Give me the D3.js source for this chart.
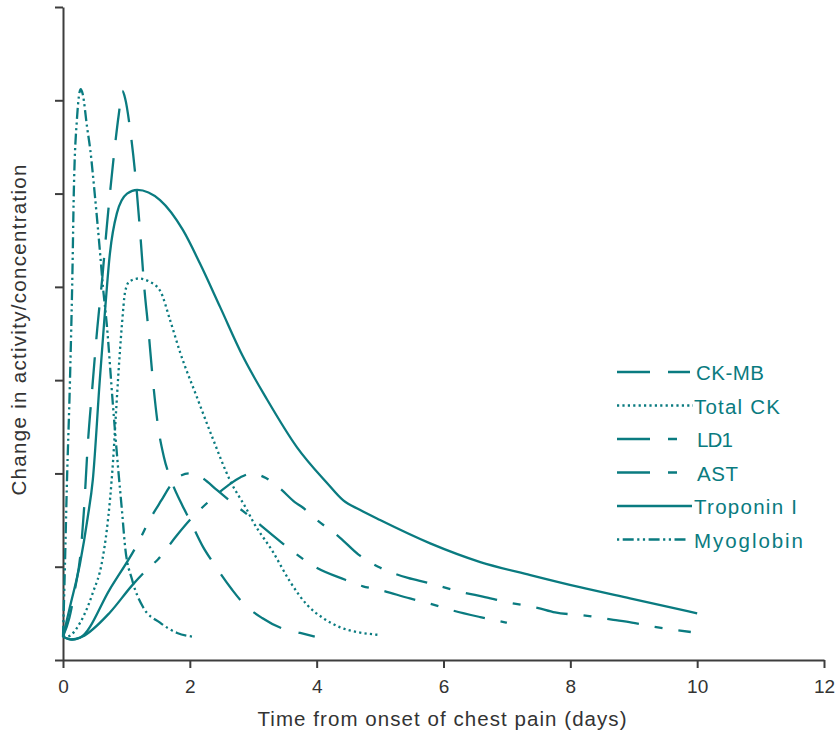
<!DOCTYPE html>
<html><head><meta charset="utf-8">
<script src="https://cdn.jsdelivr.net/npm/d3@7/dist/d3.min.js"></script>
<style>body{margin:0;background:#fff}</style>
</head><body>
<svg id="chart" width="837" height="732"></svg>
<script>
// ---------- data (days, relative change) ----------
const xTicks = [0, 2, 4, 6, 8, 10, 12];
const yTicks = [0, 1, 2, 3, 4, 5, 6, 7];
const seriesNames = ["CK-MB", "Total CK", "LD1", "AST", "Troponin I", "Myoglobin"];

const ckmb = [[0,0.25],[0.1,0.45],[0.2,0.8],[0.27,1.1],[0.33,1.6],[0.39,2.3],[0.46,2.9],[0.54,3.55],[0.62,4.1],[0.69,4.64],[0.79,5.33],[0.88,5.85],[0.935,6.1],[0.98,6.02],[1.06,5.68],[1.14,5.2],[1.21,4.64],[1.29,3.93],[1.34,3.59],[1.42,2.98],[1.5,2.5],[1.59,2.18],[1.72,1.9],[1.88,1.66],[2.0,1.5],[2.21,1.21],[2.37,1.04],[2.67,0.75],[2.84,0.61],[3.14,0.45],[3.45,0.34],[3.74,0.29],[3.97,0.25]];
const totalCK = [[0,0.25],[0.06,0.25],[0.27,0.4],[0.47,0.72],[0.62,1.07],[0.69,1.39],[0.74,1.71],[0.79,2.14],[0.84,2.7],[0.87,3.03],[0.93,3.6],[0.98,3.95],[1.05,4.06],[1.2,4.09],[1.35,4.06],[1.53,3.96],[1.69,3.64],[1.85,3.29],[2.11,2.82],[2.37,2.36],[2.63,1.93],[2.9,1.61],[3.0,1.48],[3.31,1.16],[3.58,0.84],[3.85,0.59],[4.1,0.45],[4.37,0.35],[4.64,0.3],[4.97,0.27]];
const ld1 = [[0,0.25],[0.15,0.22],[0.3,0.25],[0.74,0.51],[1.09,0.8],[1.34,0.98],[1.5,1.08],[1.8,1.34],[2.0,1.5],[2.35,1.73],[2.6,1.87],[2.8,1.96],[2.98,2.0],[3.2,1.95],[3.42,1.84],[3.66,1.69],[3.77,1.64],[3.97,1.52],[4.37,1.31],[4.66,1.13],[4.97,1.0],[5.44,0.88],[5.74,0.83],[6.34,0.72],[6.62,0.68],[7.0,0.62],[7.48,0.56],[7.76,0.51],[8.19,0.48],[8.68,0.43],[8.97,0.4],[9.38,0.35],[9.9,0.3]];
const ast = [[0,0.25],[0.13,0.22],[0.27,0.24],[0.74,0.76],[1.21,1.29],[1.34,1.47],[1.55,1.71],[1.74,1.91],[1.87,1.98],[2.0,2.0],[2.2,1.95],[2.43,1.82],[2.7,1.67],[2.98,1.52],[3.39,1.29],[3.67,1.14],[3.97,1.0],[4.45,0.86],[4.73,0.79],[5.0,0.75],[5.47,0.66],[5.76,0.61],[6.15,0.53],[6.58,0.46],[7.0,0.4]];
const troponinI = [[0,0.25],[0.11,0.57],[0.27,1.04],[0.39,1.53],[0.47,1.93],[0.58,3.0],[0.66,3.72],[0.74,4.36],[0.85,4.79],[1.01,5.0],[1.17,5.04],[1.53,4.93],[1.89,4.61],[2.16,4.25],[2.48,3.78],[2.84,3.25],[3.22,2.79],[3.69,2.28],[4.16,1.9],[4.42,1.71],[4.68,1.61],[5.0,1.5],[5.79,1.25],[6.58,1.05],[7.37,0.91],[8.15,0.78],[8.94,0.66],[10.0,0.5]];
const myoglobin = [[0,0.25],[0.03,1.0],[0.06,1.85],[0.11,3.0],[0.15,4.2],[0.17,5.0],[0.22,5.8],[0.28,6.12],[0.31,6.07],[0.38,5.71],[0.43,5.47],[0.5,5.0],[0.58,4.4],[0.63,4.0],[0.69,3.6],[0.79,2.71],[0.87,2.05],[0.93,1.6],[0.98,1.21],[1.09,0.86],[1.26,0.57],[1.53,0.4],[1.8,0.29],[2.05,0.25]];

const xLabel = "Time from onset of chest pain (days)";
const yLabel = "Change in activity/concentration";

// ---------- styles ----------
const teal = "#0a7b80";
const axisColor = "#3d3d3d";
const textColor = "#333333";
const font = "'Liberation Sans', Arial, Helvetica, sans-serif";

const series = [
  {name: seriesNames[0], data: ckmb, lead: 0, pattern: [32,18], legend: "33,18"},
  {name: seriesNames[1], data: totalCK, lead: 0, pattern: [2.2,3.2], legend: "2.2,3.2"},
  {name: seriesNames[2], data: ld1, lead: 108, pattern: [16,8,16,32], legend: "33,18,9,60"},
  {name: seriesNames[3], data: ast, lead: 122, pattern: [16,8,16,32], legend: "33,18,9,60"},
  {name: seriesNames[4], data: troponinI, lead: 0, pattern: null, legend: null},
  {name: seriesNames[5], data: myoglobin, lead: 0, pattern: [11,3.5,2.2,3.5,2.2,3.5], legend: "2.2,3.5,11,3.5,2.2,3.5"}
];
const legendEnds = [690, 693, 677, 677, 692, 688];
const legendWidths = [68, 86, 36, 41, 103, 109];

// ---------- scales ----------
const svg = d3.select("#chart");
const x = d3.scaleLinear().domain([0, 12]).range([63, 824]);
const y = d3.scaleLinear().domain([0, 7]).range([660, 7]);

// ---------- axes ----------
const xAxis = svg.append("g").attr("transform", "translate(0,660)")
  .call(d3.axisBottom(x).tickValues(xTicks).tickSize(8).tickSizeOuter(0).tickPadding(11.5));
const yAxis = svg.append("g").attr("transform", "translate(63,0)")
  .call(d3.axisLeft(y).tickValues(yTicks).tickSize(8).tickSizeOuter(0).tickFormat(""));
[xAxis, yAxis].forEach(g => {
  g.select(".domain").attr("stroke", axisColor).attr("stroke-width", 2);
  g.selectAll(".tick line").attr("stroke", axisColor).attr("stroke-width", 2);
});
xAxis.selectAll(".tick text").attr("fill", textColor).style("font-family", font).style("font-size", "19px");

// axis titles
svg.append("text").attr("x", 442).attr("y", 726).attr("text-anchor", "middle")
  .attr("textLength", 369).attr("lengthAdjust", "spacing")
  .style("font-family", font).style("font-size", "20.5px").attr("fill", textColor).text(xLabel);
svg.append("text").attr("transform", "translate(26,330) rotate(-90)").attr("text-anchor", "middle")
  .attr("textLength", 331).attr("lengthAdjust", "spacing")
  .style("font-family", font).style("font-size", "20.5px").attr("fill", textColor).text(yLabel);

// ---------- curves ----------
const line = d3.line().x(d => x(d[0])).y(d => y(d[1])).curve(d3.curveMonotoneX);
function buildDash(lead, pattern, total) {
  const arr = [];
  let s = 0;
  if (lead > 0) { arr.push(lead); s = lead; }
  while (s < total + 100) { for (const p of pattern) { arr.push(p); s += p; } }
  return arr.join(",");
}
series.forEach(s => {
  const p = svg.append("path").datum(s.data)
    .attr("d", line).attr("fill", "none").attr("stroke", teal)
    .attr("stroke-width", 2.3).attr("stroke-linejoin", "round");
  if (s.pattern) {
    const total = p.node().getTotalLength();
    p.attr("stroke-dasharray", buildDash(s.lead, s.pattern, total));
  }
});

// ---------- legend ----------
const lg = svg.append("g");
series.forEach((s, i) => {
  const ly = 372 + i * 33.5;
  const l = lg.append("line").attr("x1", 617).attr("x2", legendEnds[i]).attr("y1", ly).attr("y2", ly)
    .attr("stroke", teal).attr("stroke-width", 2.3);
  if (s.legend) l.attr("stroke-dasharray", s.legend);
  const tx = (i === 2 || i === 3) ? 697 : (i === 0 ? 696 : 694);
  lg.append("text").attr("x", tx).attr("y", ly + 8)
    .attr("textLength", legendWidths[i]).attr("lengthAdjust", "spacing")
    .style("font-family", font).style("font-size", "20.5px").attr("fill", teal).text(s.name);
});
</script>
</body></html>
